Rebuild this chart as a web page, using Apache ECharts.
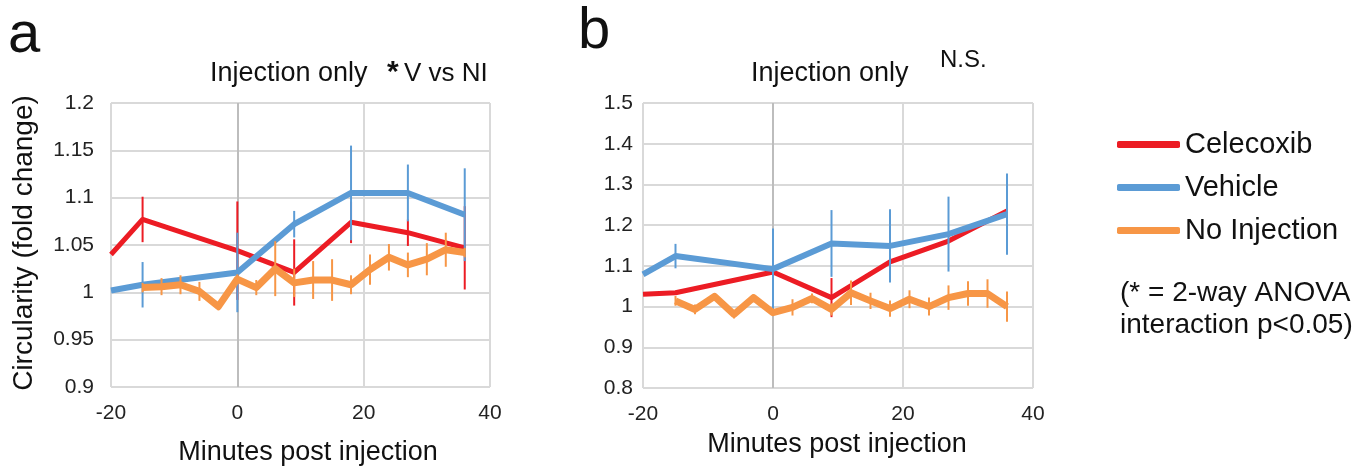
<!DOCTYPE html>
<html><head><meta charset="utf-8">
<script src="https://cdn.jsdelivr.net/npm/echarts@6/dist/echarts.min.js"></script>
<style>html,body{margin:0;padding:0;background:#fff}#c{width:1372px;height:468px}</style>
</head><body><div id="c"></div>
<script>
// ---- data ----
const seriesNames = ['Celecoxib', 'Vehicle', 'No Injection'];
const xTicks = [-20, 0, 20, 40];
const aYTicks = [0.9, 0.95, 1, 1.05, 1.1, 1.15, 1.2];
const bYTicks = [0.8, 0.9, 1, 1.1, 1.2, 1.3, 1.4, 1.5];

// panel a
const aCeleX = [-20, -15, 0, 9, 18, 27, 36];
const aCele = [1.040, 1.077, 1.044, 1.021, 1.074, 1.063, 1.047];
const aCeleErr = [null, 0.024, 0.052, 0.035, 0.022, 0.014, 0.044];
const aVehX = [-20, -15, 0, 9, 18, 27, 36];
const aVeh = [1.002, 1.008, 1.021, 1.072, 1.105, 1.105, 1.082];
const aVehErr = [null, 0.024, 0.042, 0.014, 0.050, 0.030, 0.049];
const aNoX = [-15, -12, -9, -6, -3, 0, 3, 6, 9, 12, 15, 18, 21, 24, 27, 30, 33, 36];
const aNo = [1.005, 1.006, 1.008, 1.001, 0.985, 1.014, 1.005, 1.025, 1.010, 1.013, 1.013, 1.008, 1.024, 1.037, 1.029, 1.035, 1.045, 1.042];
const aNoErr = [0.005, 0.009, 0.010, 0.010, 0.004, 0.005, 0.008, 0.029, 0.015, 0.020, 0.022, 0.010, 0.016, 0.014, 0.013, 0.017, 0.018, 0.005];

// panel b
const bCeleX = [-20, -15, 0, 9, 18, 27, 36];
const bCele = [1.030, 1.034, 1.085, 1.022, 1.110, 1.161, 1.235];
const bCeleErr = [null, null, null, 0.048, null, null, null];
const bVehX = [-20, -15, 0, 9, 18, 27, 36];
const bVeh = [1.079, 1.124, 1.092, 1.155, 1.149, 1.178, 1.227];
const bVehErr = [null, 0.030, 0.100, 0.082, 0.090, 0.092, 0.100];
const bNoX = [-15, -12, -9, -6, -3, 0, 3, 6, 9, 12, 15, 18, 21, 24, 27, 30, 33, 36];
const bNo = [1.014, 0.993, 1.025, 0.981, 1.022, 0.985, 0.998, 1.020, 0.993, 1.034, 1.014, 0.995, 1.018, 1.000, 1.022, 1.032, 1.032, 1.000];
const bNoErr = [0.012, 0.012, 0.008, 0.010, 0.008, 0.008, 0.020, 0.012, 0.015, 0.030, 0.020, 0.020, 0.022, 0.022, 0.030, 0.030, 0.035, 0.037];

// ---- styles ----
const colors = ['#ec1c24', '#5b9bd5', '#f79646'];
const widths = [5, 6, 7];
const FONT = '"Liberation Sans", Arial, Helvetica, sans-serif';

function pts(xs, ys) { return xs.map((x, i) => [x, ys[i]]); }
function errs(xs, ys, es) {
  return xs.map((x, i) => es[i] == null ? null : [x, ys[i] - es[i], ys[i] + es[i]]).filter(Boolean);
}
function errSeries(name, idx, data, color, z) {
  return {
    type: 'custom', name: name + ' error', xAxisIndex: idx, yAxisIndex: idx, z: z, silent: true,
    data: data, encode: { x: 0, y: [1, 2] },
    renderItem: function (params, api) {
      const p1 = api.coord([api.value(0), api.value(1)]);
      const p2 = api.coord([api.value(0), api.value(2)]);
      return { type: 'line', shape: { x1: p1[0], y1: p1[1], x2: p2[0], y2: p2[1] },
        style: { stroke: color, lineWidth: 2 } };
    }
  };
}
function lineSeries(k, idx, data, z) {
  return { type: 'line', name: seriesNames[k], xAxisIndex: idx, yAxisIndex: idx, z: z,
    data: data, showSymbol: false, symbol: 'none', silent: true, animation: false,
    lineStyle: { color: colors[k], width: widths[k], join: 'round' },
    itemStyle: { color: colors[k] } };
}

const panels = [
  [[aCeleX, aCele, aCeleErr], [aVehX, aVeh, aVehErr], [aNoX, aNo, aNoErr]],
  [[bCeleX, bCele, bCeleErr], [bVehX, bVeh, bVehErr], [bNoX, bNo, bNoErr]]
];
const series = [];
panels.forEach((p, idx) => {
  p.forEach((s, k) => {
    series.push(lineSeries(k, idx, pts(s[0], s[1]), 2 + k));
    series.push(errSeries(seriesNames[k], idx, errs(s[0], s[1], s[2]), colors[k], 2 + k));
  });
});

function xAxisOpt(idx) {
  return {
    type: 'value', gridIndex: idx, min: xTicks[0], max: xTicks[xTicks.length - 1],
    interval: xTicks[1] - xTicks[0],
    axisLine: { show: false }, axisTick: { show: false },
    axisLabel: { margin: 16, color: '#222', fontSize: 21, fontFamily: FONT },
    splitLine: { show: true, lineStyle: { color: ['#d9d9d9', '#bdbdbd', '#d9d9d9', '#d9d9d9'], width: 2 } }
  };
}
function yAxisOpt(idx, ticks, margin) {
  return {
    type: 'value', gridIndex: idx, min: ticks[0], max: ticks[ticks.length - 1],
    interval: +(ticks[1] - ticks[0]).toFixed(4),
    axisLine: { show: false }, axisTick: { show: false },
    axisLabel: { margin: margin, color: '#222', fontSize: 21, fontFamily: FONT,
      formatter: v => String(+(+v).toFixed(2)) },
    splitLine: { show: true, lineStyle: { color: '#d9d9d9', width: 2 } }
  };
}

function txt(text, x, y, size, opts) {
  opts = opts || {};
  return { type: 'text', x: x, y: y, rotation: opts.rotation || 0, silent: true,
    style: { text: text, fill: opts.fill || '#111', font: (opts.weight || 'normal') + ' ' + size + 'px ' + FONT,
      textAlign: opts.align || 'left', textVerticalAlign: 'middle' } };
}

const option = {
  backgroundColor: '#fff',
  animation: false,
  grid: [
    { left: 111, right: 882, top: 103, bottom: 81 },
    { left: 643, right: 339, top: 103, bottom: 80 }
  ],
  xAxis: [xAxisOpt(0), xAxisOpt(1)],
  yAxis: [yAxisOpt(0, aYTicks, 17), yAxisOpt(1, bYTicks, 10)],
  legend: {
    data: seriesNames, orient: 'vertical', left: 1112, top: 125,
    icon: 'roundRect', itemWidth: 63, itemHeight: 7, itemGap: 14,
    selectedMode: false,
    textStyle: { fontSize: 29, color: '#111', fontFamily: FONT, padding: [0, 0, 0, 0] }
  },
  graphic: [
    txt('a', 8, 36, 58),
    txt('b', 578, 32, 58),
    txt('Injection only', 210, 74, 27),
    txt('*', 387, 73, 30, { weight: 'bold' }),
    txt('V vs NI', 404, 74, 26),
    txt('Injection only', 751, 74, 27),
    txt('N.S.', 940, 60, 24),
    txt('Circularity (fold change)', 24, 243, 28, { rotation: Math.PI / 2, align: 'center' }),
    txt('Minutes post injection', 308, 453, 27, { align: 'center' }),
    txt('Minutes post injection', 837, 445, 27, { align: 'center' }),
    txt('(* = 2-way ANOVA', 1120, 293, 28),
    txt('interaction p<0.05)', 1120, 325, 28)
  ],
  series: series
};

const chart = echarts.init(document.getElementById('c'), null, { renderer: 'canvas' });
chart.setOption(option);
</script>
</body></html>
